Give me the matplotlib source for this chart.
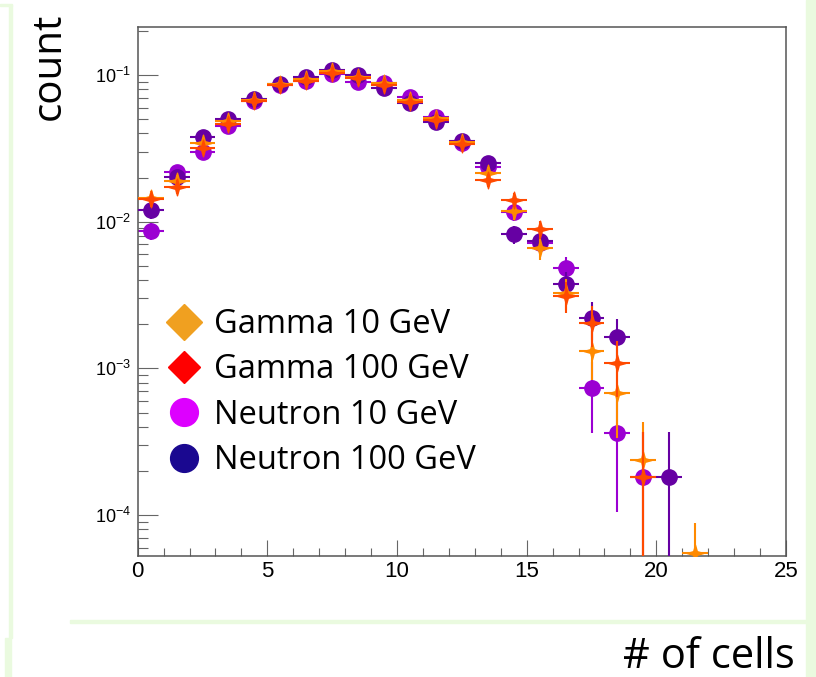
import numpy as np
import matplotlib
matplotlib.use("Agg")
import matplotlib.pyplot as plt
from matplotlib.path import Path
from matplotlib.lines import Line2D
from matplotlib.patches import Rectangle
from matplotlib import font_manager
import matplotlib.ticker as mticker

# bin centres (# of cells)
bins = np.arange(22) + 0.5
nan = np.nan

# normalised counts
gamma10 = [0.0146, 0.0189, 0.0342, 0.0489, 0.0680, 0.0865, 0.0940, 0.106, 0.0974, 0.0878, 0.0676,
           0.0507, 0.0350, 0.0216, 0.0118, 0.00659, 0.00328, 0.00132, 0.000683, 0.000238, nan, 0.000055]
gamma100 = [0.0142, 0.0173, 0.0316, 0.0464, 0.0665, 0.0855, 0.0915, 0.103, 0.0950, 0.0855, 0.0650,
            0.0490, 0.0336, 0.0192, 0.0141, 0.00887, 0.00313, 0.00203, 0.00109, 0.000183, nan, nan]
neutron10 = [0.00865, 0.0219, 0.0297, 0.0449, 0.0665, 0.0860, 0.0914, 0.102, 0.0892, 0.0878, 0.0711,
             0.0520, 0.0345, 0.0235, 0.0116, 0.0072, 0.00481, 0.000731, 0.000365, 0.000183, nan, nan]
neutron100 = [0.0120, 0.0203, 0.0376, 0.0499, 0.0690, 0.0870, 0.0967, 0.108, 0.100, 0.0812, 0.0641,
              0.0481, 0.0355, 0.0250, 0.0082, 0.00741, 0.00374, 0.00219, 0.00163, nan, 0.000183, nan]

# vertical errors
gamma10_err = [0.0016, 0.0019, 0.0025, 0.0030, 0.0035, 0.0040, 0.0041, 0.0044, 0.0042, 0.0040, 0.0035,
               0.0030, 0.0025, 0.0020, 0.0015, 0.0011, 0.00078, 0.00049, 0.00035, 0.00019, nan, 0.000033]
gamma100_err = [0.0016, 0.0018, 0.0024, 0.0029, 0.0035, 0.0040, 0.0041, 0.0043, 0.0042, 0.0040, 0.0034,
                0.0030, 0.0025, 0.0019, 0.0016, 0.0013, 0.00076, 0.00063, 0.00045, 0.000183, nan, nan]
neutron10_err = [0.0012, 0.0019, 0.0023, 0.0029, 0.0035, 0.0040, 0.0041, 0.0043, 0.0040, 0.0040, 0.0036,
                 0.0031, 0.0025, 0.0021, 0.0015, 0.0011, 0.00095, 0.00037, 0.00026, 0.000183, nan, nan]
neutron100_err = [0.0015, 0.0019, 0.0026, 0.0030, 0.0036, 0.0040, 0.0042, 0.0044, 0.0043, 0.0039, 0.0034,
                  0.0030, 0.0025, 0.0021, 0.0012, 0.0012, 0.00083, 0.00063, 0.00055, nan, 0.000183, nan]

labels = ["Gamma 10 GeV", "Gamma 100 GeV", "Neutron 10 GeV", "Neutron 100 GeV"]

names = {f.name for f in font_manager.fontManager.ttflist}
tickfont = "Liberation Sans"
xtickfont = "Liberation Sans Narrow" if "Liberation Sans Narrow" in names else "Liberation Sans"
slidefont = "Open Sans"

plt.rcParams["font.family"] = [tickfont, "DejaVu Sans"]
plt.rcParams["mathtext.default"] = "regular"

# 4 point star like the ROOT marker
star = Path([(0, 1), (0.22, 0.22), (1, 0), (0.22, -0.22), (0, -1), (-0.22, -0.22), (-1, 0), (-0.22, 0.22), (0, 1)],
            [Path.MOVETO] + [Path.LINETO] * 7 + [Path.CLOSEPOLY])

W, H = 816, 677
fig = plt.figure(figsize=(W / 100, H / 100), dpi=100)
fig.patch.set_facecolor("white")

# light green slide decorations
green = "#EAFADF"
fig.patches.append(Rectangle((806 / W, 0), 10 / W, 1, transform=fig.transFigure, color=green, zorder=0))
fig.patches.append(Rectangle((70 / W, 1 - 623 / H), 736 / W, 3 / H, transform=fig.transFigure, color=green, zorder=0))
fig.patches.append(Rectangle((9 / W, 1 - 638 / H), 3 / W, 633 / H, transform=fig.transFigure, color=green, zorder=0))
fig.patches.append(Rectangle((5 / W, 0), 6 / W, 39 / H, transform=fig.transFigure, color=green, zorder=0))
fig.patches.append(Rectangle((0, 1 - 6 / H), 12 / W, 2 / H, transform=fig.transFigure, color=green, zorder=0))

ax = fig.add_axes([137.7 / W, 1 - 555.7 / H, (786 - 137.7) / W, (555.7 - 27) / H])


def draw(vals, errs, color, marker, ms, z):
    v = np.array(vals)
    e = np.array(errs)
    m = ~np.isnan(v)
    ax.errorbar(bins[m], v[m], xerr=0.5, yerr=e[m], fmt="none", ecolor=color, elinewidth=1.5, capsize=0, zorder=z)
    ax.plot(bins[m], v[m], linestyle="none", marker=marker, ms=ms, color=color, mec=color, zorder=z + 0.5)


draw(neutron10, neutron10_err, "#9B00D2", "o", 11, 2)
draw(neutron100, neutron100_err, "#6600A3", "o", 11, 3)
draw(gamma10, gamma10_err, "#FF8A00", star, 12, 4)
draw(gamma100, gamma100_err, "#FF4A00", star, 12, 5)

ax.set_yscale("log")
ax.set_xlim(0, 25)
ax.set_ylim(5.28e-5, 0.2125)
ax.xaxis.set_major_locator(mticker.MultipleLocator(5))
ax.xaxis.set_minor_locator(mticker.MultipleLocator(1))
ax.yaxis.set_major_locator(mticker.LogLocator(base=10, numticks=10))
ax.yaxis.set_minor_locator(mticker.LogLocator(base=10, subs=np.arange(2, 10), numticks=20))
ax.yaxis.set_minor_formatter(mticker.NullFormatter())

for s in ax.spines.values():
    s.set_color("#555555")
    s.set_linewidth(1.1)
ax.tick_params(which="both", direction="in", color="#666666", width=0.8, top=False, right=False)
ax.tick_params(axis="x", which="major", length=11.5, pad=4, labelsize=16)
ax.tick_params(axis="x", which="minor", length=6)
ax.tick_params(axis="y", which="major", length=14.5, pad=5, labelsize=13)
ax.tick_params(axis="y", which="minor", length=7)
for t in ax.get_xticklabels():
    t.set_fontfamily(xtickfont)

# legend (pasted on the slide, bigger and other shades)
handles = [
    Line2D([], [], linestyle="none", marker="D", ms=18.8, color="#F0A020"),
    Line2D([], [], linestyle="none", marker="D", ms=16.8, color="#FF0000"),
    Line2D([], [], linestyle="none", marker="o", ms=20, color="#DD00FF"),
    Line2D([], [], linestyle="none", marker="o", ms=20, color="#1A0890"),
]
ax.legend(handles, labels, loc="upper left", bbox_to_anchor=(168 / W, 1 - 308 / H),
          bbox_transform=fig.transFigure, frameon=False, prop={"family": slidefont, "size": 23.5},
          handlelength=1.0, handletextpad=0.42, labelspacing=0.38, borderpad=0, borderaxespad=0)

fig.text(50 / W, 1 - 66 / H, "count", rotation=90, ha="center", va="center",
         fontsize=29, family=slidefont)
fig.text(795 / W, 1 - 668 / H, "# of cells", ha="right", va="baseline",
         fontsize=30, family=slidefont)

fig.savefig("out.png", dpi=100)
